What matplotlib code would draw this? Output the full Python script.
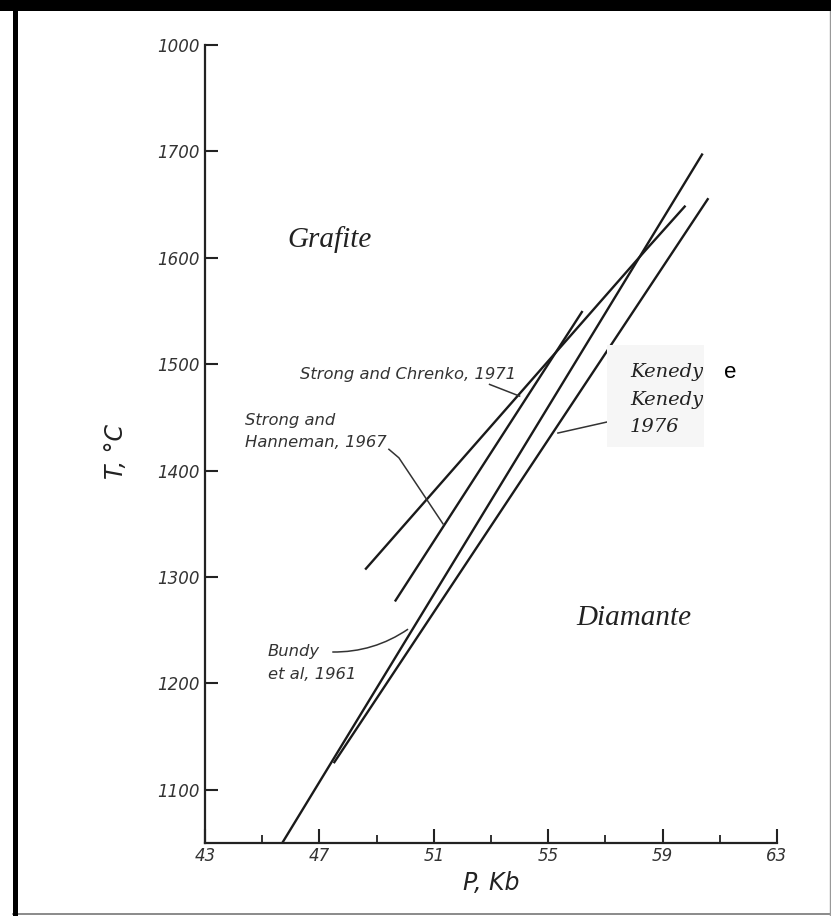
import matplotlib
matplotlib.use("Agg")
import matplotlib.pyplot as plt
from matplotlib.patches import Rectangle, PathPatch
from matplotlib.path import Path
from matplotlib.lines import Line2D

# ---- data (P in kbar, T in °C) ----
bundy_P = [45.7, 60.4]
bundy_T = [1050, 1698]
kennedy_P = [47.5, 60.6]
kennedy_T = [1125, 1656]
hanneman_P = [49.64, 56.2]
hanneman_T = [1277, 1550]
chrenko_P = [48.6, 58.4, 59.8]
chrenko_T = [1307, 1607, 1649]

x_major = [43, 47, 51, 55, 59, 63]
x_minor = [45, 49, 53, 57, 61]
y_ticks = [1100, 1200, 1300, 1400, 1500, 1600, 1700, 1800]
y_labels = ["1100", "1200", "1300", "1400", "1500", "1600", "1700", "1000"]

W, H = 831, 916
fig = plt.figure(figsize=(W / 100, H / 100), dpi=100)
fig.patch.set_facecolor("white")

def fx(px):
    return px / W

def fy(py):
    return 1 - py / H

ax = fig.add_axes([fx(205), fy(843), (777 - 205) / W, (843 - 45) / H])
ax.set_xlim(43, 63)
ax.set_ylim(1050, 1800)
ax.set_facecolor("none")
for s in ["top", "right"]:
    ax.spines[s].set_visible(False)
for s in ["left", "bottom"]:
    ax.spines[s].set_linewidth(1.6)
    ax.spines[s].set_color("#222222")

tick_font = dict(family="DejaVu Sans", style="italic", size=12, color="#333333")
ax.set_xticks(x_major)
ax.set_xticklabels([str(v) for v in x_major], **tick_font)
ax.set_xticks(x_minor, minor=True)
ax.set_yticks(y_ticks)
ax.set_yticklabels(y_labels, **tick_font)
ax.tick_params(axis="x", which="major", direction="in", length=10, width=1.5, pad=3, color="#222222")
ax.tick_params(axis="x", which="minor", direction="in", length=6, width=1.3, color="#222222")
ax.tick_params(axis="y", which="major", direction="in", length=9, width=1.5, pad=4, color="#222222")

ax.set_xlabel("P, Kb", family="DejaVu Sans", style="italic", size=17, color="#222222", labelpad=4)
ax.set_ylabel("T, °C", family="DejaVu Sans", style="italic", size=17, color="#222222", labelpad=10)
ax.yaxis.set_label_coords(-0.135, 0.49)

lc = "#1a1a1a"
lw = 1.7
ax.plot(bundy_P, bundy_T, color=lc, lw=lw, solid_capstyle="butt")
ax.plot(kennedy_P, kennedy_T, color=lc, lw=lw, solid_capstyle="butt")
ax.plot(hanneman_P, hanneman_T, color=lc, lw=lw, solid_capstyle="butt")
ax.plot(chrenko_P, chrenko_T, color=lc, lw=lw, solid_capstyle="butt")

# region labels
region = dict(family="Liberation Serif", style="italic", size=21, color="#222222")
ax.text(47.37, 1617, "Grafite", ha="center", va="center", **region)
ax.text(56.0, 1261, "Diamante", ha="left", va="center", **region)

# literature labels
lab = dict(family="DejaVu Sans", style="italic", size=11.8, color="#333333")
ax.text(46.32, 1490, "Strong and Chrenko, 1971", ha="left", va="center", **lab)
ax.text(44.4, 1447.5, "Strong and", ha="left", va="center", **lab)
ax.text(44.4, 1426, "Hanneman, 1967", ha="left", va="center", **lab)
ax.text(45.2, 1230, "Bundy", ha="left", va="center", **lab)
ax.text(45.2, 1208, "et al, 1961", ha="left", va="center", **lab)

# leaders
lead = dict(color="#333333", lw=1.1)
ax.plot([52.95, 54.0], [1481, 1470], **lead)
ax.plot([49.43, 49.78, 51.32], [1420, 1412, 1350], **lead)
verts = [(47.45, 1229.5), (48.9, 1229), (50.1, 1251)]
ax.add_patch(PathPatch(Path(verts, [Path.MOVETO, Path.CURVE3, Path.CURVE3]), fill=False,
                       edgecolor="#333333", lw=1.1))
ax.plot([57.06, 55.34], [1445.7, 1435.3], **lead)

# Kennedy box (covers part of the line)
box = Rectangle((fx(607), fy(447)), (704 - 607) / W, (447 - 345) / H, transform=fig.transFigure,
                facecolor="#f6f6f6", edgecolor="none", zorder=5)
fig.add_artist(box)
kfont = dict(family="DejaVu Serif", style="italic", size=14, color="#222222")
for txt, py in [("Kenedy", 372), ("Kenedy", 400), ("1976", 427)]:
    t = fig.text(fx(630), fy(py), txt, ha="left", va="center", zorder=6, **kfont)
    t.set_clip_path(Rectangle((fx(607), fy(447)), (703 - 607) / W, (447 - 345) / H,
                              transform=fig.transFigure))
fig.text(fx(724), fy(372), "e", family="Liberation Sans", size=16, color="black", ha="left", va="center")

# outer frame
fig.add_artist(Rectangle((0, fy(11)), 1, 11 / H, transform=fig.transFigure, facecolor="black",
                         edgecolor="none", zorder=10))
fig.add_artist(Rectangle((fx(13), 0), 5 / W, 1, transform=fig.transFigure, facecolor="black",
                         edgecolor="none", zorder=10))
fig.add_artist(Line2D([fx(13), 1], [fy(914), fy(914)], transform=fig.transFigure, color="#777777", lw=1.2))
fig.add_artist(Line2D([fx(829.5), fx(829.5)], [0, 1], transform=fig.transFigure, color="#999999", lw=1))

fig.savefig("out.png", dpi=100, facecolor="white")
